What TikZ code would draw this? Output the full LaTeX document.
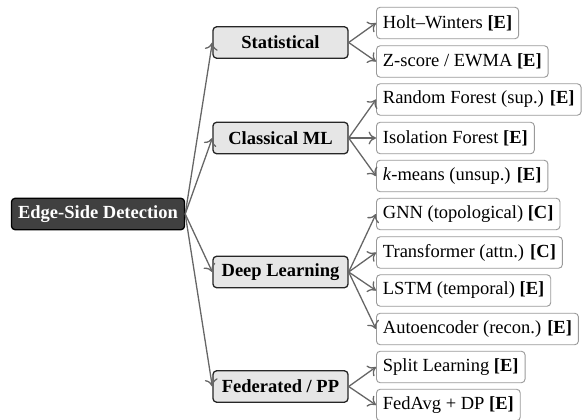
\documentclass[tikz,border=0pt]{standalone}
\usepackage{fontspec}
\setmainfont{Liberation Serif}
\usetikzlibrary{arrows.meta}
\definecolor{rootfill}{HTML}{404040}
\definecolor{catfill}{HTML}{E6E6E6}
\definecolor{leafedge}{HTML}{9A9A9A}
\definecolor{linkgray}{HTML}{666666}
\tikzset{
  rootbox/.style={draw=black, fill=rootfill, text=white, font=\bfseries,
    rounded corners=2pt, line width=0.7pt, minimum height=17pt, inner xsep=3.6pt},
  catbox/.style={draw=black!85, fill=catfill, font=\bfseries,
    rounded corners=2pt, line width=0.7pt, minimum height=17pt, minimum width=73pt},
  leafbox/.style={draw=leafedge, fill=white, rounded corners=2pt,
    line width=0.5pt, minimum height=17pt, inner xsep=3.5pt, anchor=west},
  link/.style={draw=linkgray, line width=0.7pt, -{To[length=4pt,width=7pt]}}
}
\begin{document}
\begin{tikzpicture}[x=0.5405pt, y=-0.5405pt]
\useasboundingbox (0,0) rectangle (585,420);

% root
\node[rootbox] (root) at (98,214) {Edge-Side Detection};

% categories
\node[catbox] (stat) at (280.5,42.5)  {Statistical};
\node[catbox] (cml)  at (280.5,138)   {Classical ML};
\node[catbox] (dl)   at (280.5,272)   {Deep Learning};
\node[catbox] (fed)  at (280.5,386.5) {Federated / PP};

% methods
\node[leafbox] (hw)   at (376,23)    {Holt–Winters \textbf{[E]}};
\node[leafbox] (zs)   at (376,61.5)  {Z-score / EWMA \textbf{[E]}};
\node[leafbox] (rf)   at (376,99.5)  {Random Forest (sup.) \textbf{[E]}};
\node[leafbox] (if)   at (376,138)   {Isolation Forest \textbf{[E]}};
\node[leafbox] (km)   at (376,176)   {\textit{k}-means (unsup.) \textbf{[E]}};
\node[leafbox] (gnn)  at (376,214)   {GNN (topological) \textbf{[C]}};
\node[leafbox] (tr)   at (376,252.5) {Transformer (attn.) \textbf{[C]}};
\node[leafbox] (lstm) at (376,290.5) {LSTM (temporal) \textbf{[E]}};
\node[leafbox] (ae)   at (376,329)   {Autoencoder (recon.) \textbf{[E]}};
\node[leafbox] (sl)   at (376,367)   {Split Learning \textbf{[E]}};
\node[leafbox] (fa)   at (376,405)   {FedAvg + DP \textbf{[E]}};

% links
\foreach \c in {stat,cml,dl,fed} \draw[link] (root.east) -- (\c.west);
\foreach \c in {hw,zs} \draw[link] (stat.east) -- (\c.west);
\foreach \c in {rf,if,km} \draw[link] (cml.east) -- (\c.west);
\foreach \c in {gnn,tr,lstm,ae} \draw[link] (dl.east) -- (\c.west);
\foreach \c in {sl,fa} \draw[link] (fed.east) -- (\c.west);
\end{tikzpicture}
\end{document}
